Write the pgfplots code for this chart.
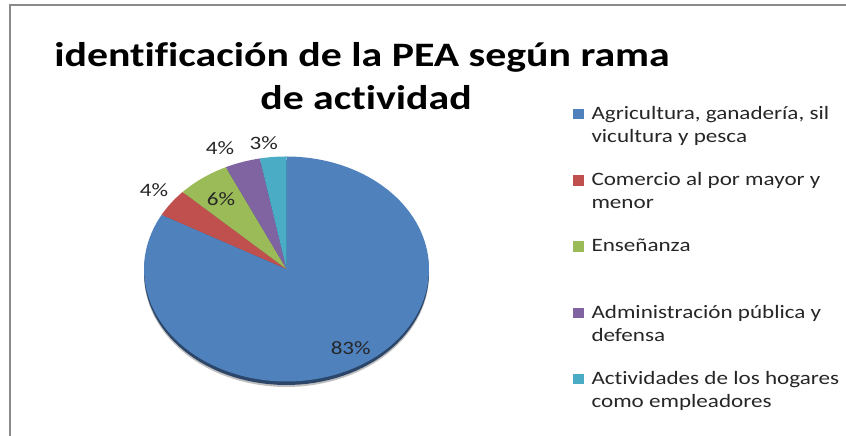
\documentclass[border=0pt]{standalone}
\usepackage{fontspec}
\setmainfont{Carlito}[FakeStretch=1.22, Ligatures={NoCommon}]
\usepackage{pgfplots}
\usepackage{pgfplotstable}
\pgfplotsset{compat=1.18}

\definecolor{cA}{HTML}{4F81BD}
\definecolor{cB}{HTML}{C0504D}
\definecolor{cC}{HTML}{9BBB59}
\definecolor{cD}{HTML}{8064A2}
\definecolor{cE}{HTML}{4BACC6}
\definecolor{rim}{HTML}{2C4669}
\definecolor{frame}{HTML}{8A8A8A}

% share of the economically active population (PEA) by branch of activity, %
\pgfplotstableread{
idx pct
0 83
1 4
2 6
3 4
4 3
}\piedata

\begin{document}
\begin{tikzpicture}[x=1bp,y=1bp]
\useasboundingbox (0,0) rectangle (846,436);
\pgfplotstablegetelem{0}{pct}\of\piedata \let\pA\pgfplotsretval
\pgfplotstablegetelem{1}{pct}\of\piedata \let\pB\pgfplotsretval
\pgfplotstablegetelem{2}{pct}\of\piedata \let\pC\pgfplotsretval
\pgfplotstablegetelem{3}{pct}\of\piedata \let\pD\pgfplotsretval
\pgfplotstablegetelem{4}{pct}\of\piedata \let\pE\pgfplotsretval
\pgfmathsetmacro\kA{450-3.6*(\pA)}
\pgfmathsetmacro\kB{450-3.6*(\pA+\pB)}
\pgfmathsetmacro\kC{450-3.6*(\pA+\pB+\pC)}
\pgfmathsetmacro\kD{450-3.6*(\pA+\pB+\pC+\pD)}
\pgfmathsetmacro\kE{450-3.6*(\pA+\pB+\pC+\pD+\pE)}
\def\cx{286.5}\def\cy{167}\def\rx{142.5}\def\ry{112.5}
\begin{axis}[
  at={(0,0)}, anchor=south west,
  scale only axis, width=846bp, height=436bp,
  xmin=0, xmax=846, ymin=0, ymax=436,
  hide axis, clip=false,
  legend image code/.code={\fill[#1] (0bp,0bp) rectangle (10.5bp,10.5bp);},
  legend style={at={(0.67766,0.76376)}, anchor=north west,
    draw=none, fill=none, inner sep=0pt, outer sep=0pt,
    row sep={66.3bp,between origins}, column sep=7.7bp,
    nodes={inner sep=0pt, outer sep=0pt},
    font=\fontsize{19}{23.3}\selectfont, text=black!85,
    cells={anchor=base west}},
]
% 3D rim and shadow below the pie
\addplot[fill=black!25, draw=none, forget plot, domain=0:360, samples=120]
  ({\cx+\rx*cos(x)},{\cy-5.5+\ry*sin(x)});
\addplot[fill=rim, draw=none, forget plot, domain=0:360, samples=120]
  ({\cx+\rx*cos(x)},{\cy-3.5+\ry*sin(x)});
% slices
\addplot[fill=cA, draw=none, domain=\kA:450, samples=120]
  ({\cx+\rx*cos(x)},{\cy+\ry*sin(x)}) -- (axis cs:\cx,\cy) -- cycle;
\addlegendentry{\parbox[t]{250bp}{\strut Agricultura, ganadería, sil\newline\strut vicultura y pesca}}
\addplot[fill=cB, draw=none, domain=\kB:\kA, samples=20]
  ({\cx+\rx*cos(x)},{\cy+\ry*sin(x)}) -- (axis cs:\cx,\cy) -- cycle;
\addlegendentry{\parbox[t]{250bp}{\strut Comercio al por mayor y\newline\strut menor}}
\addplot[fill=cC, draw=none, domain=\kC:\kB, samples=20]
  ({\cx+\rx*cos(x)},{\cy+\ry*sin(x)}) -- (axis cs:\cx,\cy) -- cycle;
\addlegendentry{\parbox[t]{250bp}{\strut Enseñanza\newline\strut}}
\addplot[fill=cD, draw=none, domain=\kD:\kC, samples=20]
  ({\cx+\rx*cos(x)},{\cy+\ry*sin(x)}) -- (axis cs:\cx,\cy) -- cycle;
\addlegendentry{\parbox[t]{250bp}{\strut Administración pública y\newline\strut defensa}}
\addplot[fill=cE, draw=none, domain=\kE:\kD, samples=20]
  ({\cx+\rx*cos(x)},{\cy+\ry*sin(x)}) -- (axis cs:\cx,\cy) -- cycle;
\addlegendentry{\parbox[t]{250bp}{\strut Actividades de los hogares\newline\strut como empleadores}}
% data labels
\begin{scope}[every node/.style={font=\fontsize{19}{23}\selectfont, text=black!85}]
\node at (axis cs:350.7,87.7) {83\%};
\node at (axis cs:221,237.2) {6\%};
\node at (axis cs:154,245.7) {4\%};
\node at (axis cs:220,287.7) {4\%};
\node at (axis cs:263.7,293) {3\%};
\end{scope}
% title
\node[anchor=base, font=\fontsize{34.4}{43}\selectfont\bfseries] at (axis cs:362,369) {identificación de la PEA según rama};
\node[anchor=base, font=\fontsize{34.4}{43}\selectfont\bfseries] at (axis cs:366,326) {de actividad};
% chart area frame
\draw[frame, line width=2bp] (axis cs:10,0) -- (axis cs:10,431) -- (axis cs:846,431);
\end{axis}
\end{tikzpicture}
\end{document}
